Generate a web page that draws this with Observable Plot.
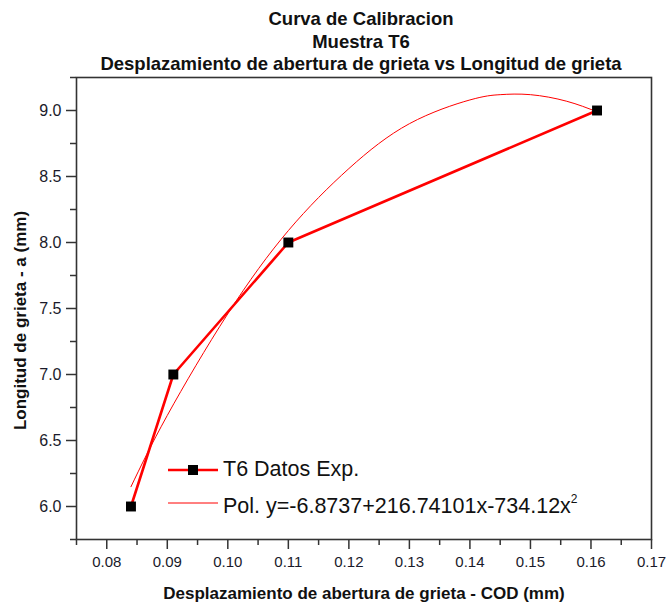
<!DOCTYPE html>
<html><head><meta charset="utf-8">
<script src="https://cdn.jsdelivr.net/npm/d3@7"></script>
<script src="https://cdn.jsdelivr.net/npm/@observablehq/plot@0.6"></script>
<style>
body{margin:0;background:#fff;font-family:"Liberation Sans",Arial,sans-serif;}
#wrap{position:relative;width:666px;height:605px;overflow:hidden;}
#legend{position:absolute;left:168px;top:453px;font-size:21.5px;color:#111;line-height:33px;}
#legend .row{display:flex;align-items:center;height:33px;}
#legend svg{margin-right:5px;}
#legend sup{font-size:12px;vertical-align:10px;}
</style></head><body>
<div id="wrap"><div id="legend"></div></div>
<script>
// Experimental data: COD (mm) vs crack length a (mm)
const codX = [0.084, 0.091, 0.110, 0.161];
const crackA = [6.0, 7.0, 8.0, 9.0];
// Fitted polynomial curve
const fitX = [0.084, 0.090, 0.100, 0.110, 0.120, 0.130, 0.140, 0.145, 0.150, 0.156, 0.161];
const fitY = [6.15, 6.69, 7.46, 8.09, 8.56, 8.90, 9.08, 9.12, 9.12, 9.07, 8.99];
// Ticks
const xTicks = [0.08, 0.09, 0.10, 0.11, 0.12, 0.13, 0.14, 0.15, 0.16, 0.17];
const xMinor = [0.075, 0.085, 0.095, 0.105, 0.115, 0.125, 0.135, 0.145, 0.155, 0.165];
const yTicks = [6.0, 6.5, 7.0, 7.5, 8.0, 8.5, 9.0];
const yMinor = [5.75, 6.25, 6.75, 7.25, 7.75, 8.25, 8.75, 9.25];
// Texts
const titleLines = ["Curva de Calibracion", "Muestra T6", "Desplazamiento de abertura de grieta vs Longitud de grieta"];
const xTitle = "Desplazamiento de abertura de grieta - COD (mm)";
const yTitle = "Longitud de grieta - a (mm)";
const seriesNames = ["T6 Datos Exp.", "Pol. y=-6.8737+216.74101x-734.12x"];

const data = codX.map((x, i) => ({x, y: crackA[i]}));
const fit = fitX.map((x, i) => ({x, y: fitY[i]}));
const axisColor = "#333";

const chart = Plot.plot({
  width: 666, height: 605,
  marginLeft: 76, marginRight: 15, marginTop: 77, marginBottom: 66,
  style: {fontFamily: "'Liberation Sans', Arial, sans-serif", fontSize: "15px", background: "white", color: "#1a1a2a"},
  x: {domain: [0.075, 0.17], axis: null},
  y: {domain: [5.75, 9.25], axis: null},
  marks: [
    Plot.frame({stroke: axisColor, strokeWidth: 1.6}),
    Plot.axisX(xTicks, {tickSize: 10, tickPadding: 7, tickFormat: d => d.toFixed(2), label: null, stroke: axisColor, strokeWidth: 1.5, fill: "#1a1a2a", fontSize: 15}),
    Plot.axisX(xMinor, {tickSize: 6, tickFormat: () => "", label: null, stroke: axisColor, strokeWidth: 1.5}),
    Plot.axisY(yTicks, {tickSize: 10, tickPadding: 5, tickFormat: d => d.toFixed(1), label: null, stroke: axisColor, strokeWidth: 1.5, fill: "#1a1a2a", fontSize: 16}),
    Plot.axisY(yMinor, {tickSize: 6, tickFormat: () => "", label: null, stroke: axisColor, strokeWidth: 1.5}),
    Plot.line(fit, {x: "x", y: "y", stroke: "#ff0000", strokeWidth: 1, curve: "natural"}),
    Plot.line(data, {x: "x", y: "y", stroke: "#ff0000", strokeWidth: 2.6}),
    Plot.dot(data, {x: "x", y: "y", symbol: "square", r: 5.6, fill: "black", stroke: "none"}),
    Plot.text([titleLines.join("\n")], {frameAnchor: "top", lineAnchor: "middle", dy: -37, dx: -3, lineHeight: 1.22, fontSize: 18.5, fontWeight: "bold", fill: "#111"}),
    Plot.text([xTitle], {frameAnchor: "bottom", lineAnchor: "middle", dy: 54, fontSize: 17, fontWeight: "bold", fill: "#111"}),
    Plot.text([yTitle], {frameAnchor: "left", textAnchor: "middle", lineAnchor: "middle", rotate: -90, dx: -56, dy: 12, fontSize: 17, fontWeight: "bold", fill: "#111"})
  ]
});
const wrap = document.getElementById("wrap");
wrap.insertBefore(chart, wrap.firstChild);

// Legend
const legend = document.getElementById("legend");
legend.innerHTML =
  `<div class="row"><svg width="50" height="14"><line x1="0" y1="7" x2="50" y2="7" stroke="#ff0000" stroke-width="2.6"/><rect x="20" y="2" width="10" height="10" fill="black"/></svg><span>${seriesNames[0]}</span></div>` +
  `<div class="row"><svg width="50" height="14"><line x1="0" y1="7" x2="50" y2="7" stroke="#ff0000" stroke-width="1"/></svg><span>${seriesNames[1]}<sup>2</sup></span></div>`;
</script>
</body></html>
